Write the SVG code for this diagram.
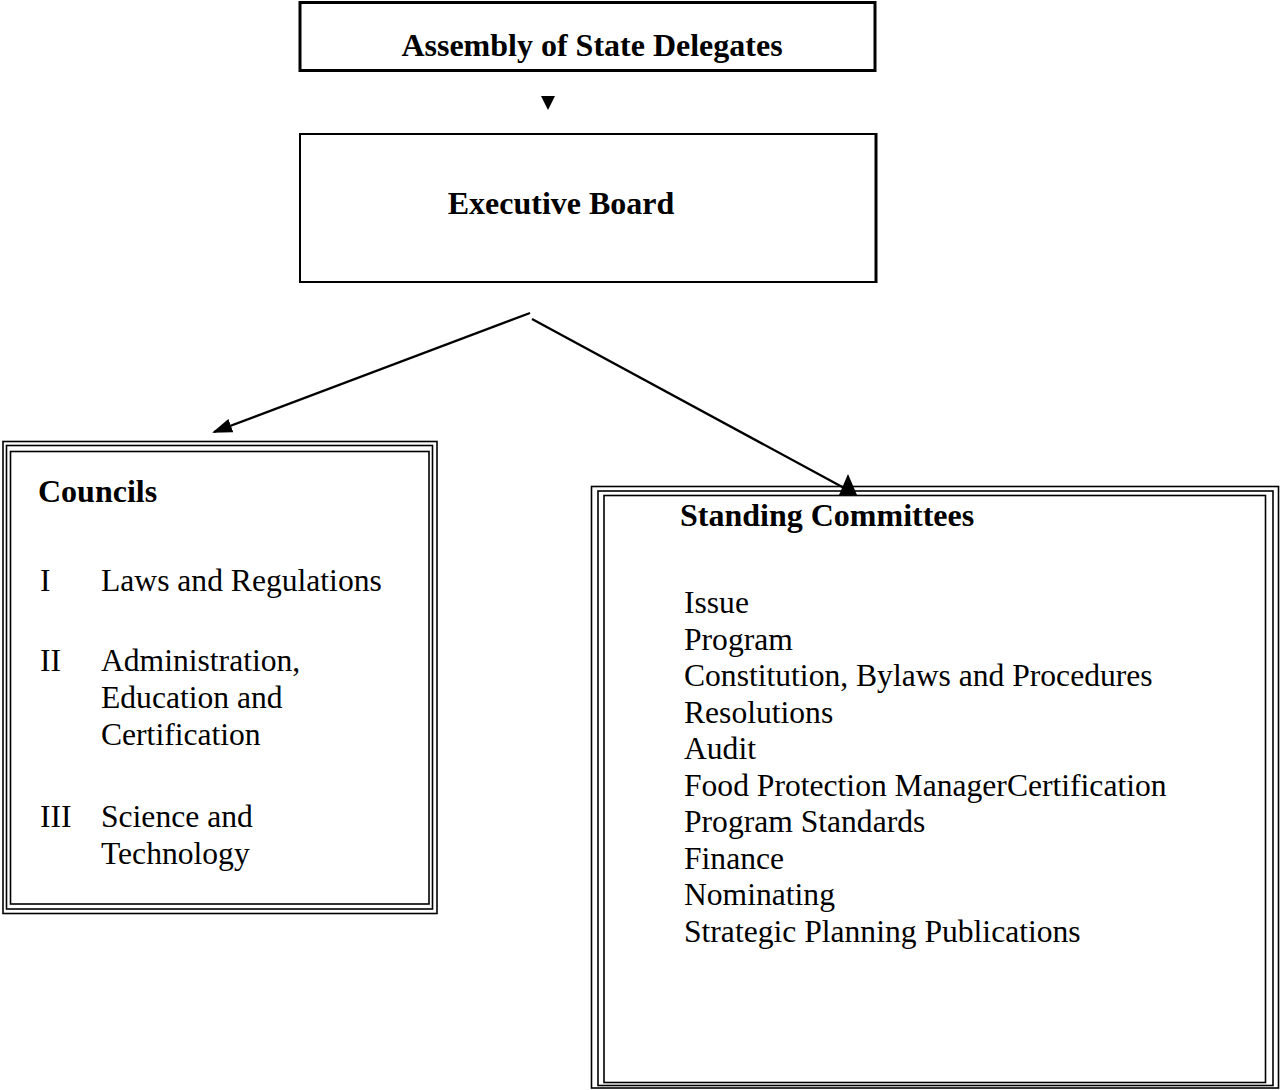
<svg xmlns="http://www.w3.org/2000/svg" width="1280" height="1090" viewBox="0 0 1280 1090">
<style>
.t{font-family:"Liberation Serif","Times New Roman",serif;fill:#000}
.b{font-weight:bold;font-size:32px}
.r{font-size:31.6px}
.box{fill:#fff;stroke:#000}
.tl{fill:none;stroke:#000;stroke-width:1.6}
.conn{stroke:#000;stroke-width:2.3;fill:none}
</style>
<defs>
<marker id="ah" viewBox="0 0 20 14" refX="18" refY="7" markerWidth="20" markerHeight="14" markerUnits="userSpaceOnUse" orient="auto">
<path d="M0,0 L20,7 L0,14 Z" fill="#000"/>
</marker>
</defs>
<rect width="1280" height="1090" fill="#fff"/>
<g id="assembly">
<rect class="box" x="300" y="2.5" width="575" height="68" stroke-width="3"/>
<text class="t b" x="592" y="56" text-anchor="middle">Assembly of State Delegates</text>
</g>
<g id="executive">
<rect class="box" x="300" y="134" width="576" height="148" stroke-width="2"/>
<line x1="876" y1="133" x2="876" y2="283" stroke="#000" stroke-width="3"/>
<text class="t b" x="561" y="214" text-anchor="middle">Executive Board</text>
</g>
<g id="councils">
<rect class="tl" x="3" y="441.5" width="434" height="472"/>
<rect class="tl" x="6.5" y="445.5" width="426" height="463.5"/>
<rect class="tl" x="10.5" y="451.5" width="418.5" height="452.5"/>
<text class="t b" x="38" y="502">Councils</text>
<text class="t r" x="40" y="591">I</text>
<text class="t r" x="101" y="591">Laws and Regulations</text>
<text class="t r" x="40" y="671">II</text>
<text class="t r" x="101" y="671">Administration,</text>
<text class="t r" x="101" y="708">Education and</text>
<text class="t r" x="101" y="745">Certification</text>
<text class="t r" x="40" y="827">III</text>
<text class="t r" x="101" y="827">Science and</text>
<text class="t r" x="101" y="864">Technology</text>
</g>
<g id="standing">
<rect class="tl" x="591.5" y="486.5" width="687" height="601.5"/>
<rect class="tl" x="598" y="491" width="675" height="594.5" stroke-width="2"/>
<rect class="tl" x="604" y="495.5" width="661.5" height="587"/>
<text class="t b" x="680" y="526">Standing Committees</text>
<text class="t r" x="684" y="613">Issue</text>
<text class="t r" x="684" y="649.5">Program</text>
<text class="t r" x="684" y="686">Constitution, Bylaws and Procedures</text>
<text class="t r" x="684" y="722.5">Resolutions</text>
<text class="t r" x="684" y="759">Audit</text>
<text class="t r" x="684" y="795.5">Food Protection ManagerCertification</text>
<text class="t r" x="684" y="832">Program Standards</text>
<text class="t r" x="684" y="868.5">Finance</text>
<text class="t r" x="684" y="905">Nominating</text>
<text class="t r" x="684" y="941.5">Strategic Planning Publications</text>
</g>
<g id="connectors">
<path d="M541,96 L555,96 L548,110 Z" fill="#000"/>
<line class="conn" x1="530" y1="313" x2="214" y2="432" marker-end="url(#ah)"/>
<line class="conn" x1="532" y1="319" x2="846" y2="489"/>
<path d="M848,474 L857,495 L839,495 Z" fill="#000"/>
</g>
</svg>
